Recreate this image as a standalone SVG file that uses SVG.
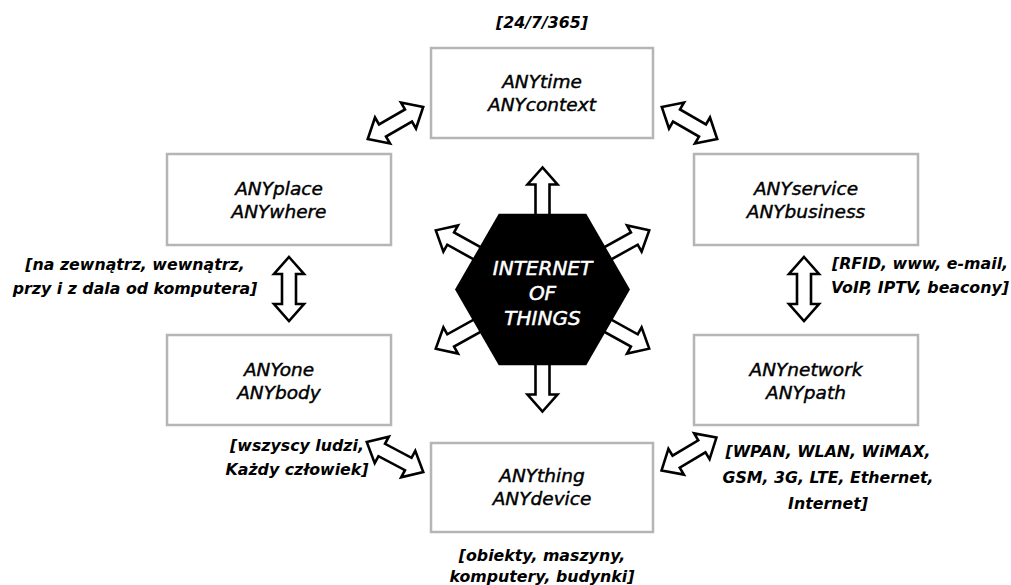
<svg xmlns="http://www.w3.org/2000/svg" width="1011" height="585" viewBox="0 0 1011 585">
<defs>
<style>
.box{fill:#fff;stroke:#b5b5b5;stroke-width:2.5}
.arr{fill:#fff;stroke:#000;stroke-width:2.6;stroke-linejoin:miter}
.t{font-family:"DejaVu Sans",sans-serif;font-style:italic;font-size:18.5px;fill:#000;stroke:#000;stroke-width:0.45;text-anchor:middle}
.lb{font-family:"DejaVu Sans",sans-serif;font-style:italic;font-weight:bold;font-size:15.8px;fill:#000;text-anchor:middle}
.ht{font-family:"DejaVu Sans",sans-serif;font-style:italic;font-size:20px;fill:#fff;stroke:#fff;stroke-width:0.5;text-anchor:middle}
</style>
<polygon id="dbl" points="-32,0 -15,-15 -15,-7 15,-7 15,-15 32,0 15,15 15,7 -15,7 -15,15"/>
<polygon id="sgl" points="122,0 105,-15 105,-7 0,-7 0,7 105,7 105,15"/>
</defs>
<rect width="1011" height="585" fill="#fff"/>
<g id="connectors">
<use href="#dbl" class="arr" transform="translate(395.5,123) rotate(-30)"/>
<use href="#dbl" class="arr" transform="translate(689.5,123) rotate(30)"/>
<use href="#dbl" class="arr" transform="translate(289,289) rotate(90)"/>
<use href="#dbl" class="arr" transform="translate(804,289) rotate(90)"/>
<use href="#dbl" class="arr" transform="translate(395,457) rotate(28)"/>
<use href="#dbl" class="arr" transform="translate(689,454) rotate(-31)"/>
<g transform="translate(542.5,289.5)">
<use href="#sgl" class="arr" transform="rotate(-90)"/>
<use href="#sgl" class="arr" transform="rotate(90)"/>
<use href="#sgl" class="arr" transform="rotate(-151)"/>
<use href="#sgl" class="arr" transform="rotate(-29)"/>
<use href="#sgl" class="arr" transform="rotate(151)"/>
<use href="#sgl" class="arr" transform="rotate(29)"/>
</g>
</g>
<g id="iot">
<polygon points="630,289.5 586.25,365.3 498.75,365.3 455,289.5 498.75,213.7 586.25,213.7" fill="#000"/>
<text class="ht" x="542.5" y="275">INTERNET</text>
<text class="ht" x="542.5" y="300">OF</text>
<text class="ht" x="542.5" y="325">THINGS</text>
</g>
<g id="anytime">
<rect class="box" x="431" y="48" width="222" height="90"/>
<text class="t" x="542" y="88">ANYtime</text>
<text class="t" x="542" y="111">ANYcontext</text>
<text class="lb" x="542" y="28">[24/7/365]</text>
</g>
<g id="anyplace">
<rect class="box" x="167" y="154" width="224" height="91"/>
<text class="t" x="279" y="195">ANYplace</text>
<text class="t" x="279" y="218">ANYwhere</text>
<text class="lb" x="135" y="270">[na zewnątrz, wewnątrz,</text>
<text class="lb" x="135" y="294">przy i z dala od komputera]</text>
</g>
<g id="anyservice">
<rect class="box" x="694" y="154" width="224" height="91"/>
<text class="t" x="806" y="195">ANYservice</text>
<text class="t" x="806" y="218">ANYbusiness</text>
<text class="lb" x="920" y="269">[RFID, www, e-mail,</text>
<text class="lb" x="920" y="293">VoIP, IPTV, beacony]</text>
</g>
<g id="anyone">
<rect class="box" x="167" y="335" width="224" height="90"/>
<text class="t" x="279" y="376">ANYone</text>
<text class="t" x="279" y="399">ANYbody</text>
<text class="lb" x="297" y="451">[wszyscy ludzi,</text>
<text class="lb" x="297" y="475">Każdy człowiek]</text>
</g>
<g id="anynetwork">
<rect class="box" x="694" y="335" width="224" height="90"/>
<text class="t" x="806" y="376">ANYnetwork</text>
<text class="t" x="806" y="399">ANYpath</text>
<text class="lb" x="828" y="457">[WPAN, WLAN, WiMAX,</text>
<text class="lb" x="828" y="483">GSM, 3G, LTE, Ethernet,</text>
<text class="lb" x="828" y="509">Internet]</text>
</g>
<g id="anything">
<rect class="box" x="431" y="443" width="222" height="89"/>
<text class="t" x="542" y="482">ANYthing</text>
<text class="t" x="542" y="505">ANYdevice</text>
<text class="lb" x="542" y="561">[obiekty, maszyny,</text>
<text class="lb" x="542" y="582">komputery, budynki]</text>
</g>
</svg>
